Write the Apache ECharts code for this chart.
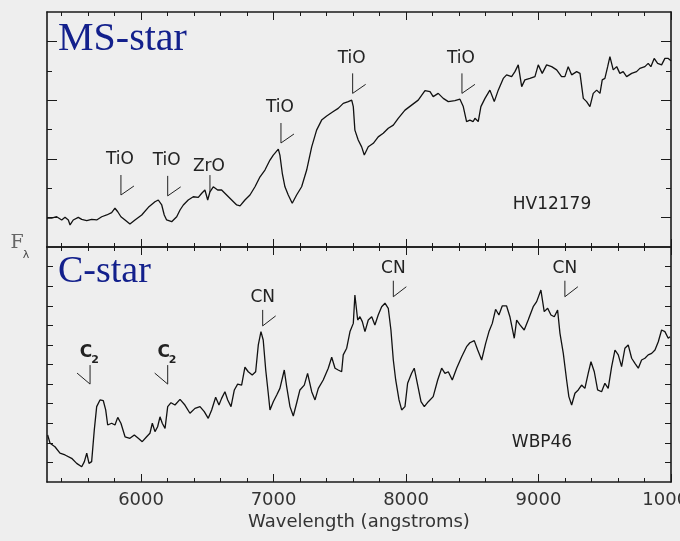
<!DOCTYPE html>
<html><head><meta charset="utf-8">
<script src="https://cdn.jsdelivr.net/npm/echarts@6/dist/echarts.min.js"></script>
<style>html,body{margin:0;padding:0;background:#eeeeee}#c{width:680px;height:541px}</style>
</head><body><div id="c"></div>
<script>
// ---- Data (wavelength in angstroms, relative flux) ----
const wavelengthMS = [5290,5325,5363,5401,5426,5451,5464,5488,5526,5552,
5590,5627,5665,5703,5741,5778,5803,5824,5848,5879,
5916,5954,6005,6055,6105,6130,6156,6175,6193,6231,
6269,6294,6319,6356,6394,6432,6458,6482,6503,6520,
6545,6558,6578,6608,6646,6684,6722,6747,6784,6822,
6860,6898,6935,6973,6998,7036,7048,7066,7086,7111,
7141,7174,7212,7250,7288,7325,7363,7401,7451,7488,
7526,7564,7590,7602,7614,7639,7665,7685,7715,7753,
7790,7828,7866,7904,7941,7992,8042,8092,8143,8181,
8205,8243,8281,8319,8369,8407,8432,8457,8482,8507,
8520,8545,8565,8596,8633,8666,8696,8734,8759,8797,
8822,8847,8873,8897,8935,8973,8998,9028,9061,9099,
9137,9174,9199,9224,9250,9288,9313,9338,9363,9388,
9413,9439,9464,9481,9501,9522,9539,9564,9590,9614,
9639,9665,9703,9740,9765,9803,9828,9848,9873,9899,
9929,9954,9979,10000];
const fluxMS = [0.98,0.98,1.03,0.92,1.01,0.92,0.75,0.92,1.01,0.94,
0.90,0.94,0.92,1.03,1.09,1.17,1.32,1.20,1.03,0.92,
0.78,0.92,1.09,1.35,1.54,1.60,1.43,1.09,0.92,0.86,
1.03,1.26,1.43,1.60,1.71,1.69,1.83,1.94,1.60,1.88,
2.05,2.11,1.94,1.94,1.77,1.60,1.43,1.40,1.60,1.77,
2.05,2.39,2.62,2.96,3.13,3.33,3.13,2.51,2.05,1.77,
1.49,1.77,2.05,2.62,3.41,3.98,4.32,4.46,4.61,4.72,
4.89,4.95,5.00,4.78,3.98,3.64,3.41,3.13,3.41,3.53,
3.75,3.87,4.04,4.15,4.38,4.66,4.83,5.00,5.32,5.29,
5.12,5.23,5.06,4.95,4.98,5.03,4.78,4.27,4.32,4.27,
4.38,4.27,4.78,5.06,5.34,4.95,5.34,5.74,5.86,5.80,
5.97,6.20,5.46,5.69,5.74,5.80,6.20,5.91,6.20,6.14,
6.03,5.80,5.80,6.14,5.86,5.97,5.91,5.06,4.95,4.78,
5.23,5.34,5.23,5.69,5.74,6.14,6.48,6.03,6.14,5.91,
5.97,5.80,5.91,5.97,6.08,6.14,6.25,6.14,6.42,6.25,
6.20,6.42,6.42,6.34];
const wavelengthC = [5295,5313,5350,5388,5426,5476,5514,5552,5572,5590,
5607,5627,5647,5665,5690,5715,5733,5748,5778,5803,
5824,5848,5879,5916,5949,5979,6009,6042,6067,6085,
6105,6125,6143,6160,6181,6201,6226,6256,6294,6331,
6369,6407,6445,6477,6507,6533,6563,6588,6608,6633,
6654,6679,6704,6729,6759,6784,6809,6839,6865,6885,
6905,6922,6941,6960,6973,6998,7024,7048,7081,7099,
7124,7149,7174,7199,7232,7257,7288,7313,7338,7375,
7413,7439,7464,7488,7514,7526,7552,7577,7602,7614,
7635,7652,7670,7690,7715,7741,7765,7790,7816,7841,
7866,7886,7904,7922,7947,7967,7992,8012,8042,8062,
8088,8113,8138,8168,8205,8239,8269,8294,8319,8349,
8382,8420,8457,8482,8515,8541,8571,8601,8626,8651,
8676,8701,8726,8759,8784,8817,8835,8860,8892,8922,
8960,8986,9018,9043,9069,9094,9119,9144,9162,9187,
9212,9229,9250,9275,9300,9325,9350,9375,9396,9421,
9446,9476,9501,9526,9552,9577,9602,9627,9652,9677,
9703,9728,9753,9778,9803,9828,9854,9879,9904,9929,
9954,9979,9992];
const fluxC = [2.40,1.98,1.80,1.47,1.38,1.21,0.95,0.78,1.04,1.47,
0.95,1.04,2.66,3.85,4.19,4.15,3.68,2.91,3.00,2.91,
3.30,3.00,2.31,2.23,2.40,2.23,2.06,2.31,2.49,3.00,
2.57,2.82,3.33,3.00,2.74,3.85,4.05,3.93,4.22,3.93,
3.51,3.76,3.85,3.59,3.25,3.68,4.33,3.93,4.27,4.61,
4.19,3.85,4.70,5.00,4.95,5.86,5.63,5.46,5.63,7.00,
7.68,7.25,5.72,4.53,3.68,4.10,4.44,4.78,5.72,4.87,
3.85,3.37,4.02,4.70,4.95,5.55,4.61,4.19,4.78,5.21,
5.81,6.37,5.81,5.72,5.63,6.49,6.83,7.68,8.10,9.55,
8.27,8.44,8.19,7.68,8.27,8.44,8.02,8.53,8.95,9.13,
8.87,7.76,6.23,5.21,4.19,3.68,3.85,5.04,5.55,5.81,
4.95,4.10,3.85,4.10,4.36,5.21,5.81,5.55,5.63,5.21,
5.81,6.40,6.91,7.11,7.22,6.74,6.23,7.08,7.68,8.10,
8.82,8.53,8.99,8.99,8.44,7.34,8.27,8.02,7.76,8.27,
8.95,9.21,9.80,8.70,8.87,8.53,8.44,8.78,7.59,6.57,
5.21,4.36,3.93,4.53,4.70,4.95,4.78,5.55,6.14,5.63,
4.70,4.61,5.04,4.78,5.89,6.74,6.49,5.89,6.83,7.00,
6.32,6.06,5.81,6.23,6.32,6.49,6.57,6.74,7.16,7.76,
7.68,7.34,7.42];
const xTickValues = [6000, 7000, 8000, 9000, 10000];
// band labels: [label, wavelength, flux at marker foot]
const bandsMS = [['TiO',5848,1.77],['TiO',6201,1.74],['ZrO',6520,1.87],['TiO',7056,3.54],['TiO',7597,5.23],['TiO',8422,5.23]];
const bandsC = [['C2',5615,5.00],['C2',6201,5.00],['CN',6918,7.97],['CN',7904,9.46],['CN',9199,9.46]];

// ---- Styling ----
const markerStyle = {
  TiO: {h:20, diag:[13,-9], ty:35, tx:-1},
  ZrO: {h:17, diag:null, ty:25, tx:-1},
  CN:  {h:16, diag:[13,-10], ty:28, tx:0},
  C2:  {h:19, diag:[-13,-11], ty:32, tx:-4}
};
const FONT = '"DejaVu Sans", sans-serif';
const INK = '#1a1a1a';
const minorX = [];
for (let v = 5400; v < 10000; v += 200) if (v % 1000 !== 0) minorX.push(v);

function xAx(gi, pos, ticks, len, main, labels) {
  return {
    type: 'value', gridIndex: gi, position: pos, min: 5290, max: 10000,
    axisLine: {show: main, onZero: false, lineStyle: {color: INK, width: 1.6}},
    axisTick: {show: true, inside: true, length: len, customValues: ticks, lineStyle: {color: INK, width: 1}},
    axisLabel: labels ? {show: true, customValues: ticks, formatter: v => String(v), fontFamily: FONT, fontSize: 18, color: '#333', margin: 9, hideOverlap: false} : {show: false},
    splitLine: {show: false},
    name: labels ? 'Wavelength (angstroms)' : '',
    nameLocation: 'middle', nameGap: 31,
    nameTextStyle: {fontFamily: FONT, fontSize: 18, color: '#333'}
  };
}
function yAx(gi, pos, max, ticks, len, main) {
  return {
    type: 'value', gridIndex: gi, position: pos, min: 0, max: max,
    axisLine: {show: main, onZero: false, lineStyle: {color: INK, width: 1.6}},
    axisTick: {show: true, inside: true, length: len, customValues: ticks, lineStyle: {color: INK, width: 1}},
    axisLabel: {show: false}, splitLine: {show: false}
  };
}
function renderBands(list) {
  return function (params, api) {
    const a = list[params.dataIndex];
    const p = api.coord([api.value(0), api.value(1)]);
    const s = markerStyle[a[0]];
    const ls = {stroke: '#222', lineWidth: 1};
    const kids = [{type: 'line', shape: {x1: p[0], y1: p[1], x2: p[0], y2: p[1] - s.h}, style: ls}];
    if (s.diag) kids.push({type: 'line', shape: {x1: p[0], y1: p[1], x2: p[0] + s.diag[0], y2: p[1] + s.diag[1]}, style: ls});
    const ts = (t, x, y, size, w) => ({type: 'text', style: {text: t, x: x, y: y, align: 'center', verticalAlign: 'middle', textAlign: 'center', textVerticalAlign: 'middle', fontFamily: FONT, fontSize: size, fontWeight: w || 'normal', fill: '#222'}});
    if (a[0] === 'C2') {
      kids.push(ts('C', p[0] + s.tx, p[1] - s.ty, 17, 'bold'));
      kids.push(ts('2', p[0] + 5, p[1] - 24, 11, 'bold'));
    } else {
      kids.push(ts(a[0], p[0] + s.tx, p[1] - s.ty, 17));
    }
    return {type: 'group', children: kids};
  };
}
function gtext(t, x, y, size, fam, color, align) {
  return {type: 'text', z: 100, style: {text: t, x: x, y: y, align: align || 'center', verticalAlign: 'middle', textAlign: align || 'center', textVerticalAlign: 'middle', fontFamily: fam, fontSize: size, fill: color}};
}

const chart = echarts.init(document.getElementById('c'), null, {renderer: 'canvas'});
chart.setOption({
  backgroundColor: '#eeeeee',
  animation: false,
  grid: [
    {left: 47, right: 9, top: 12, height: 235, containLabel: false, outerBoundsMode: 'none'},
    {left: 47, right: 9, top: 247, height: 235, containLabel: false, outerBoundsMode: 'none'}
  ],
  xAxis: [
    xAx(0, 'bottom', xTickValues, 8, true, false),
    xAx(0, 'bottom', minorX, 4, false, false),
    xAx(0, 'top', xTickValues, 8, true, false),
    xAx(0, 'top', minorX, 4, false, false),
    xAx(1, 'bottom', xTickValues, 8, true, true),
    xAx(1, 'bottom', minorX, 4, false, false),
    xAx(1, 'top', xTickValues, 8, true, false),
    xAx(1, 'top', minorX, 4, false, false)
  ],
  yAxis: [
    yAx(0, 'left', 8, [1,3,5,7], 10, true),
    yAx(0, 'left', 8, [2,4,6], 5, false),
    yAx(0, 'right', 8, [1,3,5,7], 10, true),
    yAx(0, 'right', 8, [2,4,6], 5, false),
    yAx(1, 'left', 12, [1,2,3,4,5,6,7,8,9,10,11], 6, true),
    yAx(1, 'right', 12, [1,2,3,4,5,6,7,8,9,10,11], 6, true)
  ],
  series: [
    {type: 'line', xAxisIndex: 0, yAxisIndex: 0, data: wavelengthMS.map((w, i) => [w, fluxMS[i]]),
     symbol: 'none', lineStyle: {color: '#111', width: 1.3}, silent: true},
    {type: 'line', xAxisIndex: 4, yAxisIndex: 4, data: wavelengthC.map((w, i) => [w, fluxC[i]]),
     symbol: 'none', lineStyle: {color: '#111', width: 1.3}, silent: true},
    {type: 'custom', xAxisIndex: 0, yAxisIndex: 0, data: bandsMS.map(b => [b[1], b[2]]), renderItem: renderBands(bandsMS), silent: true, z: 5},
    {type: 'custom', xAxisIndex: 4, yAxisIndex: 4, data: bandsC.map(b => [b[1], b[2]]), renderItem: renderBands(bandsC), silent: true, z: 5}
  ],
  graphic: [
    gtext('MS-star', 58, 39, 40, '"Liberation Serif", serif', '#13208c', 'left'),
    gtext('C-star', 58, 272, 38, '"Liberation Serif", serif', '#13208c', 'left'),
    gtext('HV12179', 552, 205, 17, FONT, '#222'),
    gtext('WBP46', 542, 443, 17, FONT, '#222'),
    gtext('F', 17, 243, 19, '"DejaVu Serif", serif', '#666'),
    gtext('λ', 26, 255, 11, FONT, '#444')
  ]
});
</script></body></html>
